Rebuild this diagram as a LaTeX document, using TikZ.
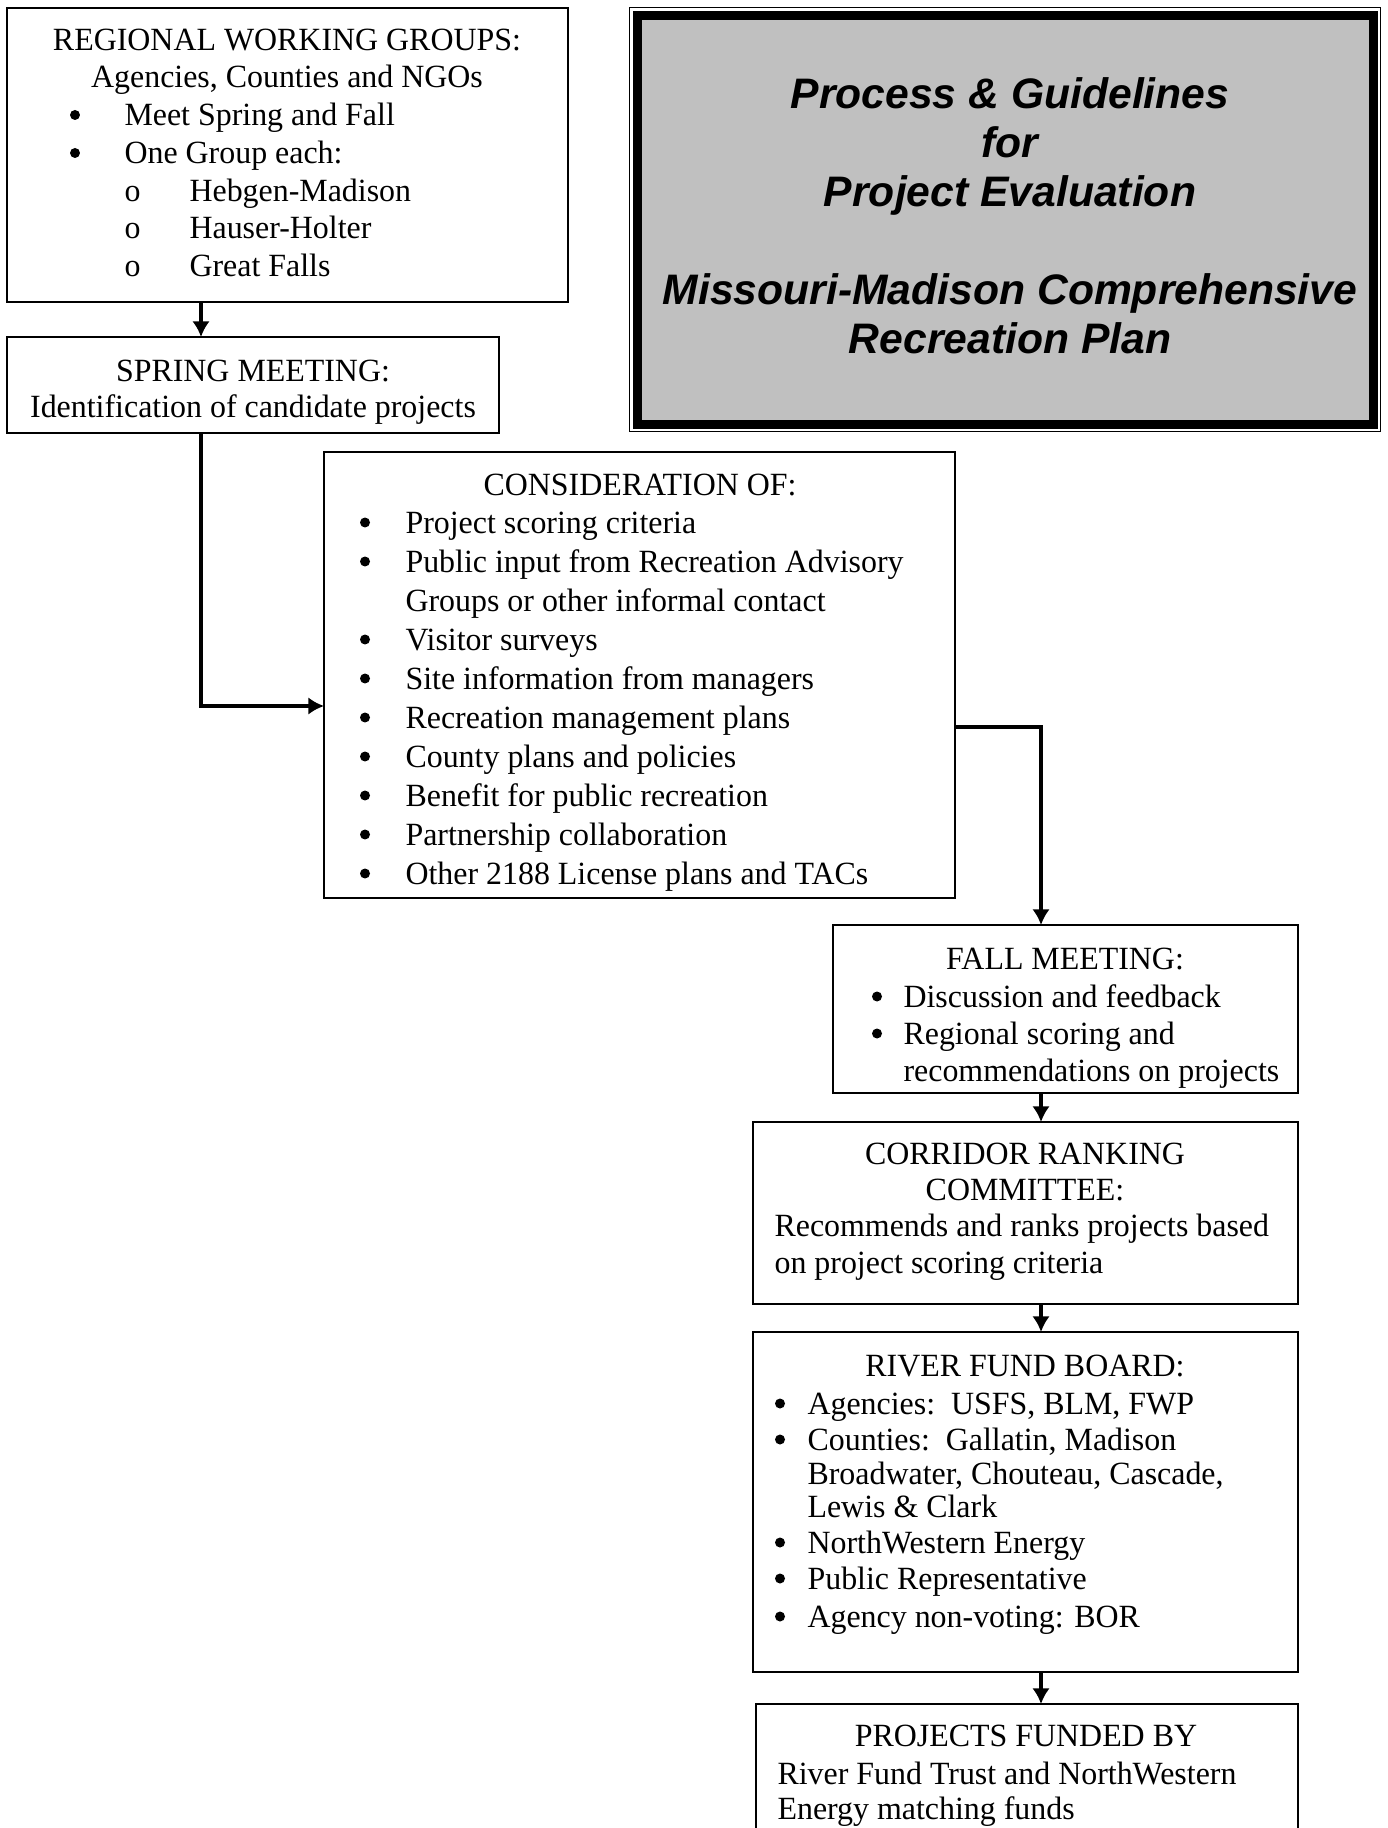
\documentclass[tikz,border=0pt]{standalone}
\usepackage{fontspec}
\setmainfont{Liberation Serif}[FakeStretch=0.985]
\newfontfamily\headfont{Liberation Sans}
\usetikzlibrary{arrows.meta}
\definecolor{panelgrey}{RGB}{192,192,192}
\newcommand\pxu{0.3704pt}

\begin{document}
\begin{tikzpicture}[x=0.3704pt, y=-0.3704pt, >={Latex[length=5.8pt, width=6.5pt]}, font=\fontsize{12}{13.8}\selectfont,
  box/.style={draw, line width=0.6pt, inner sep=0pt, outer sep=0pt, anchor=north west},
  titlebox/.style={draw, line width=3.3pt, fill=panelgrey, inner sep=0pt, outer sep=0pt, anchor=north west},
  txt/.style={inner sep=0pt, anchor=base, yshift=-0.8pt},
  ltxt/.style={inner sep=0pt, anchor=base west, yshift=-0.8pt},
  dot/.style={circle, fill, inner sep=0pt, minimum size=3.7pt},
  headtxt/.style={inner sep=0pt, anchor=base, font=\headfont\bfseries\itshape\fontsize{15.8}{18}\selectfont},
  arr/.style={->, line width=1.2pt}]

\useasboundingbox (0,0) rectangle (1388,1828);

% boxes
\node[box, minimum width=561*\pxu, minimum height=294*\pxu] (rwg) at (7,8) {}; %regional working groups
\node[box, minimum width=492*\pxu, minimum height=96*\pxu] (spring) at (7,337) {}; %spring meeting
\node[box, minimum width=631*\pxu, minimum height=446*\pxu] (consid) at (324,452) {}; %consideration
\node[box, minimum width=465*\pxu, minimum height=168*\pxu] (fall) at (833,925) {}; %fall meeting
\node[box, minimum width=545*\pxu, minimum height=182*\pxu] (corridor) at (753,1122) {}; %corridor committee
\node[box, minimum width=545*\pxu, minimum height=340*\pxu] (river) at (753,1332) {}; %river fund board
\node[box, minimum width=542*\pxu, minimum height=160*\pxu] (funded) at (756,1704) {}; %projects funded

% title panel
\node[titlebox, minimum width=736*\pxu, minimum height=409*\pxu] (title) at (637.2,15.2) {};
\draw[line width=0.4pt] ([shift={(-7.7,-7.7)}]title.north west) rectangle ([shift={(7.7,7.7)}]title.south east);
\node[headtxt] (title1) at (1010,109) {Process \& Guidelines};
\node[headtxt] (title2) at (1010,158) {for};
\node[headtxt] (title3) at (1010,207) {Project Evaluation};
\node[headtxt] (title4) at (1010,305) {Missouri-Madison Comprehensive};
\node[headtxt] (title5) at (1010,354) {Recreation Plan};

% regional working groups
\node[txt] (rwg1) at (287,48) {REGIONAL WORKING GROUPS:};
\node[txt] (rwg2) at (287,85) {Agencies, Counties and NGOs};
\node[dot] (rwgb1) at (75,115) {};
\node[ltxt] (rwg3) at (124,123) {Meet Spring and Fall};
\node[dot] (rwgb2) at (75,153) {};
\node[ltxt] (rwg4) at (124,161) {One Group each:};
\node[ltxt] (rwgo1) at (124,199) {o};
\node[ltxt] (rwg5) at (189,199) {Hebgen-Madison};
\node[ltxt] (rwgo2) at (124,236) {o};
\node[ltxt] (rwg6) at (189,236) {Hauser-Holter};
\node[ltxt] (rwgo3) at (124,274) {o};
\node[ltxt] (rwg7) at (189,274) {Great Falls};

% spring meeting
\node[txt] (spring1) at (253,379) {SPRING MEETING:};
\node[txt] (spring2) at (253,415) {Identification of candidate projects};

% consideration
\node[txt] (consid0) at (640,493) {CONSIDERATION OF:};
\foreach \y/\item [count=\i] in {531/Project scoring criteria,
    570/Public input from Recreation Advisory,
    648/Visitor surveys,
    687/Site information from managers,
    726/Recreation management plans,
    765/County plans and policies,
    804/Benefit for public recreation,
    843/Partnership collaboration,
    882/Other 2188 License plans and TACs}{
  \node[dot] (considb\i) at (365,\y-8.5) {};
  \node[ltxt] (consid\i) at (405,\y) {\item};
}
\node[ltxt] (considx) at (405,609) {Groups or other informal contact};

% fall meeting
\node[txt] (fall0) at (1065,967) {FALL MEETING:};
\node[dot] (fallb1) at (877,996.5) {};
\node[ltxt] (fall1) at (903,1005) {Discussion and feedback};
\node[dot] (fallb2) at (877,1033.5) {};
\node[ltxt] (fall2) at (903,1042) {Regional scoring and};
\node[ltxt] (fall3) at (903,1079) {recommendations on projects};

% corridor ranking committee
\node[txt] (corr1) at (1025,1162) {CORRIDOR RANKING};
\node[txt] (corr2) at (1025,1198) {COMMITTEE:};
\node[ltxt] (corr3) at (774,1234) {Recommends and ranks projects based};
\node[ltxt] (corr4) at (774,1271) {on project scoring criteria};

% river fund board
\node[txt] (river0) at (1025,1374) {RIVER FUND BOARD:};
\foreach \y/\item [count=\i] in {1412/{Agencies:\ \ USFS, BLM, FWP},
    1448/{Counties:\ \ Gallatin, Madison},
    1551/NorthWestern Energy,
    1587/Public Representative,
    1625/Agency non-voting: BOR}{
  \node[dot] (riverb\i) at (780,\y-8.5) {};
  \node[ltxt] (river\i) at (807,\y) {\item};
}
\node[ltxt] (riverx1) at (807,1482) {Broadwater, Chouteau, Cascade,};
\node[ltxt] (riverx2) at (807,1515) {Lewis \& Clark};

% projects funded
\node[txt] (fund1) at (1026,1744) {PROJECTS FUNDED BY};
\node[ltxt] (fund2) at (777,1782) {River Fund Trust and NorthWestern};
\node[ltxt] (fund3) at (777,1817) {Energy matching funds};

% connectors
\coordinate (colA) at (201,0);
\coordinate (colB) at (1041,0);
\coordinate (bendA) at (201,706);
\coordinate (bendB) at (1041,727);

\draw[arr] (rwg.south -| colA) -- (spring.north -| colA);
\draw[arr] (spring.south -| bendA) |- (consid.west |- bendA);
\draw[arr] (consid.east |- bendB) -| (fall.north -| bendB);
\draw[arr] (fall.south -| colB) -- (corridor.north -| colB);
\draw[arr] (corridor.south -| colB) -- (river.north -| colB);
\draw[arr] (river.south -| colB) -- (funded.north -| colB);

\end{tikzpicture}
\end{document}
